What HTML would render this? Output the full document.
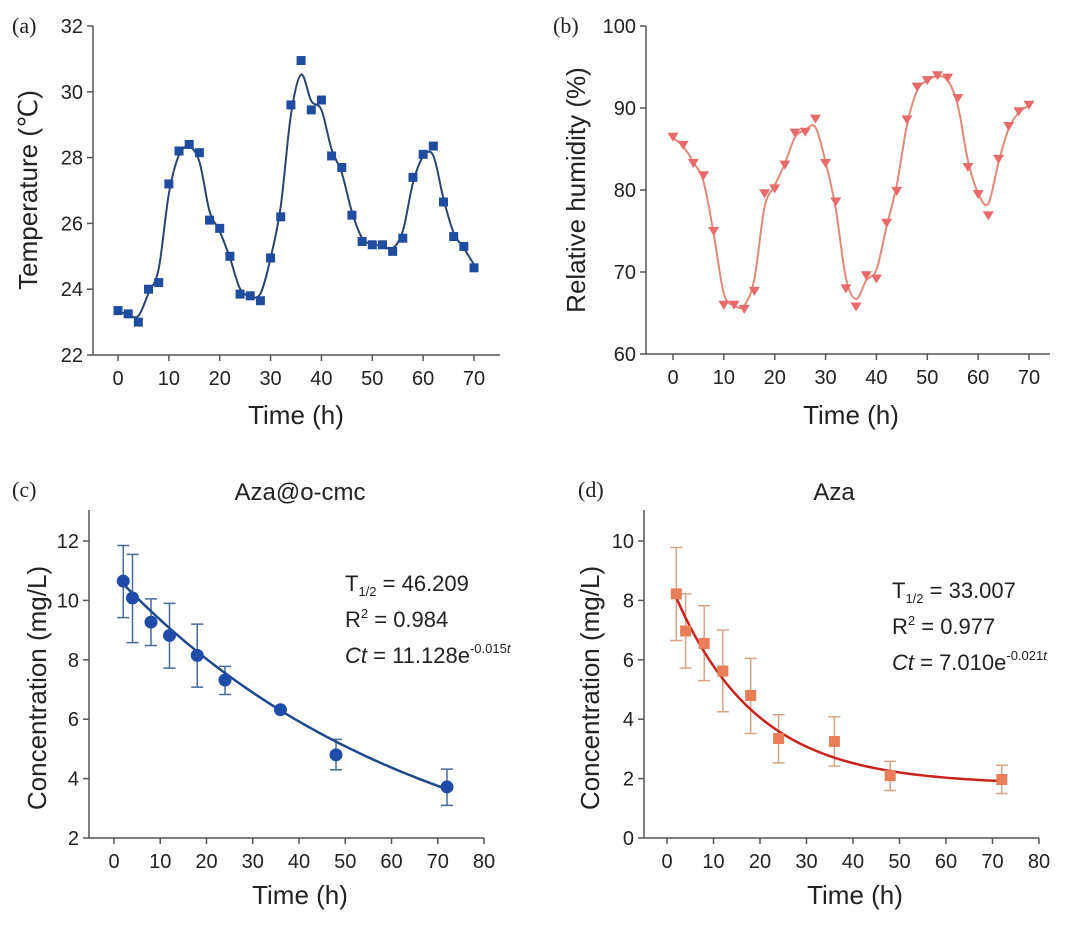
<!DOCTYPE html>
<html><head><meta charset="utf-8"><style>
body{margin:0;background:#fff}
svg{display:block;font-family:"Liberation Sans",Arial,sans-serif}
.tk{font-size:20px;fill:#222}
.at{font-size:26px;fill:#222}
.pl{font-family:"Liberation Serif",serif;font-size:22px;fill:#222}
</style></head><body>
<svg id="fig" width="1080" height="926" viewBox="0 0 1080 926"></svg>
<script>
const timeA=[0,2,4,6,8,10,12,14,16,18,20,22,24,26,28,30,32,34,36,38,40,42,44,46,48,50,52,54,56,58,60,62,64,66,68,70];
const tempVals=[23.35,23.25,23.0,24.0,24.2,27.2,28.2,28.4,28.15,26.1,25.85,25.0,23.85,23.8,23.65,24.95,26.2,29.6,30.95,29.45,29.75,28.05,27.7,26.25,25.45,25.35,25.35,25.15,25.55,27.4,28.1,28.35,26.65,25.6,25.3,24.65];
const rhVals=[86.5,85.5,83.3,81.8,75,66,66,65.5,67.7,79.6,80.2,83.1,87,87.1,88.7,83.3,78.6,68,65.8,69.6,69.2,76,79.9,88.6,92.6,93.4,94,93.7,91.2,82.8,79.5,76.9,83.8,87.8,89.6,90.4];
const tempTicks=[22,24,26,28,30,32];
const rhTicks=[60,70,80,90,100];
const timeTicksAB=[0,10,20,30,40,50,60,70];
const timeC=[2,4,8,12,18,24,36,48,72];
const concC=[10.65,10.08,9.27,8.82,8.15,7.32,6.32,4.8,3.72];
const errLoC=[9.42,8.58,8.48,7.72,7.08,6.83,6.27,4.3,3.1];
const errHiC=[11.85,11.55,10.05,9.9,9.2,7.78,6.37,5.32,4.32];
const fitC=[10.88,0.0152];
const concD=[8.22,6.97,6.55,5.62,4.8,3.35,3.25,2.1,1.97];
const errLoD=[6.65,5.72,5.3,4.25,3.52,2.53,2.42,1.6,1.5];
const errHiD=[9.78,8.22,7.82,7.0,6.05,4.15,4.08,2.58,2.45];
const fitD=[1.8,7.05,0.057];
const ticksC=[2,4,6,8,10,12];
const ticksD=[0,2,4,6,8,10];
const timeTicksCD=[0,10,20,30,40,50,60,70,80];

const NS="http://www.w3.org/2000/svg";
const svg=document.getElementById('fig');
function el(tag,attrs,parent,txt){const e=document.createElementNS(NS,tag);for(const k in attrs)e.setAttribute(k,attrs[k]);if(txt!==undefined)e.textContent=txt;(parent||svg).appendChild(e);return e;}
function lin(d0,d1,r0,r1){return v=>r0+(v-d0)*(r1-r0)/(d1-d0);}
function smooth(v){return v.map((x,i)=>{const a=v[Math.max(0,i-1)],b=v[Math.min(v.length-1,i+1)];return 0.15*a+0.7*x+0.15*b;});}
function crPath(pts){let d="M"+pts[0][0]+","+pts[0][1];for(let i=0;i<pts.length-1;i++){const p0=pts[Math.max(0,i-1)],p1=pts[i],p2=pts[i+1],p3=pts[Math.min(pts.length-1,i+2)];const c1=[p1[0]+(p2[0]-p0[0])/6,p1[1]+(p2[1]-p0[1])/6],c2=[p2[0]-(p3[0]-p1[0])/6,p2[1]-(p3[1]-p1[1])/6];d+=` C${c1[0]},${c1[1]} ${c2[0]},${c2[1]} ${p2[0]},${p2[1]}`;}return d;}

function axes(g,o){
 el('line',{x1:o.ax,y1:o.top,x2:o.ax,y2:o.ay,stroke:'#555','stroke-width':1.5},g);
 el('line',{x1:o.ax,y1:o.ay,x2:o.right,y2:o.ay,stroke:'#555','stroke-width':1.5},g);
 o.yt.forEach(v=>{const y=o.Y(v);el('line',{x1:o.ax-6,y1:y,x2:o.ax,y2:y,stroke:'#555','stroke-width':1.5},g);
  const t=el('text',{x:o.ax-10,y:y+7,'text-anchor':'end',class:'tk'},g,v);});
 o.xt.forEach(v=>{const x=o.X(v);el('line',{x1:x,y1:o.ay,x2:x,y2:o.ay+6,stroke:'#555','stroke-width':1.5},g);
  const t=el('text',{x:x,y:o.ay+30,'text-anchor':'middle',class:'tk'},g,v);});
}

// Panel a
{const g=el('g',{});
 const X=lin(0,70,118,474),Y=lin(22,32,355,26);
 axes(g,{ax:93,ay:355,top:26,right:500,X,Y,yt:tempTicks,xt:timeTicksAB});
 el('text',{x:12,y:33,class:'pl',},g,'(a)');
 el('text',{x:0,y:0,class:'at',transform:'translate(37,190) rotate(-90)','text-anchor':'middle',},g,'Temperature (℃)');
 el('text',{x:296,y:424,class:'at','text-anchor':'middle',},g,'Time (h)');
 const sm=smooth(tempVals);
 el('path',{d:crPath(timeA.map((t,i)=>[X(t),Y(sm[i])])),fill:'none',stroke:'#2b4470','stroke-width':2,},g);
 timeA.forEach((t,i)=>{const r=el('rect',{x:X(t)-4.5,y:Y(tempVals[i])-4.5,width:9,height:9,fill:'#1f4c9e'},g);});
}
// Panel b
{const g=el('g',{});
 const X=lin(0,70,673,1029),Y=lin(60,100,354,26);
 axes(g,{ax:646,ay:354,top:26,right:1050,X,Y,yt:rhTicks,xt:timeTicksAB});
 el('text',{x:553,y:33,class:'pl',},g,'(b)');
 el('text',{x:0,y:0,class:'at',transform:'translate(585,190) rotate(-90)','text-anchor':'middle',},g,'Relative humidity (%)');
 el('text',{x:851,y:424,class:'at','text-anchor':'middle',},g,'Time (h)');
 const sm=smooth(rhVals);
 el('path',{d:crPath(timeA.map((t,i)=>[X(t),Y(sm[i])])),fill:'none',stroke:'#e08a7a','stroke-width':2,},g);
 timeA.forEach((t,i)=>{const x=X(t),y=Y(rhVals[i]);const p=el('polygon',{points:`${x-5.5},${y-4} ${x+5.5},${y-4} ${x},${y+5}`,fill:'#e86a6a'},g);});
}
function decay(g,o){
 axes(g,o);
 const pts=[];for(let t=2;t<=72;t+=1)pts.push([o.X(t),o.Y(o.f(t))]);
 o.tv.forEach((t,i)=>{const x=o.X(t);const l=el('path',{d:`M${x},${o.Y(o.lo[i])}V${o.Y(o.hi[i])}M${x-6},${o.Y(o.lo[i])}h12M${x-6},${o.Y(o.hi[i])}h12`,stroke:o.ec,'stroke-width':1.5,fill:'none'},g);});
 el('path',{d:'M'+pts.map(p=>p.join(',')).join(' L'),fill:'none',stroke:o.lc,'stroke-width':2.5,},g);
 o.tv.forEach((t,i)=>{const x=o.X(t),y=o.Y(o.v[i]);let m;
  if(o.circ)m=el('circle',{cx:x,cy:y,r:6.5,fill:o.mc},g);else m=el('rect',{x:x-5.5,y:y-5.5,width:11,height:11,fill:o.mc},g);
  });
}
// Panel c
{const g=el('g',{});
 const X=lin(0,80,114,484),Y=lin(2,12,838,541);
 decay(g,{ax:89,ay:838,top:510,right:484,X,Y,yt:ticksC,xt:timeTicksCD,tv:timeC,v:concC,lo:errLoC,hi:errHiC,f:t=>fitC[0]*Math.exp(-fitC[1]*t),ec:'#4a6a9a',lc:'#1f4a8a',mc:'#1f4ca8',circ:true});
 el('text',{x:12,y:497,class:'pl',},g,'(c)');
 el('text',{x:300,y:500,'font-size':24,'text-anchor':'middle',fill:'#222',},g,'Aza@o-cmc');
 el('text',{x:0,y:0,class:'at',transform:'translate(46,688) rotate(-90)','text-anchor':'middle',},g,'Concentration (mg/L)');
 el('text',{x:300,y:904,class:'at','text-anchor':'middle',},g,'Time (h)');
 const a=el('text',{x:345,y:591,'font-size':22,fill:'#222',},g);
 a.innerHTML='<tspan>T</tspan><tspan font-size="13" dy="5">1/2</tspan><tspan dy="-5"> = 46.209</tspan><tspan x="345" dy="36">R</tspan><tspan font-size="13" dy="-9">2</tspan><tspan dy="9"> = 0.984</tspan><tspan x="345" dy="36" font-style="italic">Ct</tspan><tspan> = 11.128e</tspan><tspan font-size="13" dy="-10">-0.015</tspan><tspan font-size="13" font-style="italic">t</tspan>';
}
// Panel d
{const g=el('g',{});
 const X=lin(0,80,667,1039),Y=lin(0,10,838,541);
 decay(g,{ax:644,ay:838,top:510,right:1039,X,Y,yt:ticksD,xt:timeTicksCD,tv:timeC,v:concD,lo:errLoD,hi:errHiD,f:t=>fitD[0]+fitD[1]*Math.exp(-fitD[2]*t),ec:'#d8a488',lc:'#c8231c',mc:'#ea7d5a',circ:false});
 el('text',{x:578,y:497,class:'pl',},g,'(d)');
 el('text',{x:834,y:500,'font-size':24,'text-anchor':'middle',fill:'#222',},g,'Aza');
 el('text',{x:0,y:0,class:'at',transform:'translate(599,688) rotate(-90)','text-anchor':'middle',},g,'Concentration (mg/L)');
 el('text',{x:855,y:904,class:'at','text-anchor':'middle',},g,'Time (h)');
 const a=el('text',{x:892,y:598,'font-size':22,fill:'#222',},g);
 a.innerHTML='<tspan>T</tspan><tspan font-size="13" dy="5">1/2</tspan><tspan dy="-5"> = 33.007</tspan><tspan x="892" dy="36">R</tspan><tspan font-size="13" dy="-9">2</tspan><tspan dy="9"> = 0.977</tspan><tspan x="892" dy="36" font-style="italic">Ct</tspan><tspan> = 7.010e</tspan><tspan font-size="13" dy="-10">-0.021</tspan><tspan font-size="13" font-style="italic">t</tspan>';
}
</script>
</body></html>
